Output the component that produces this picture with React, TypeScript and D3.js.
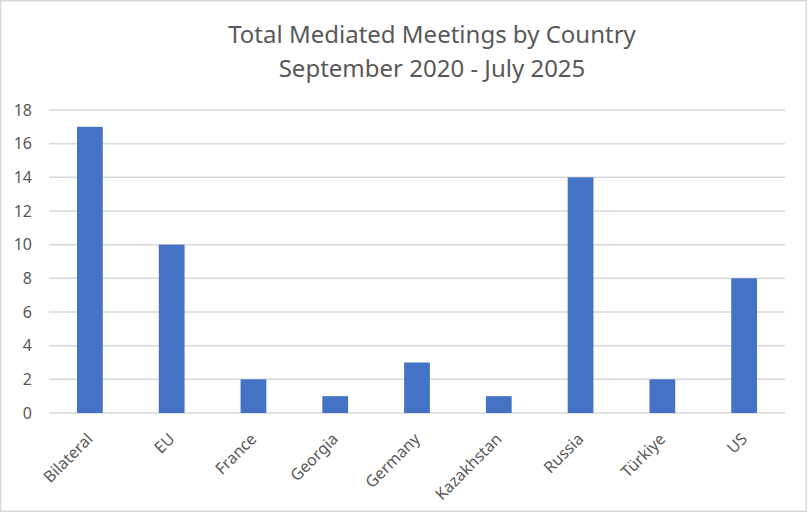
import { useEffect, useRef } from 'react'
import * as d3 from 'd3'

const COUNTRIES = ['Bilateral', 'EU', 'France', 'Georgia', 'Germany', 'Kazakhstan', 'Russia', 'Türkiye', 'US']
const MEETINGS = [17, 10, 2, 1, 3, 1, 14, 2, 8]
const Y_TICKS = [0, 2, 4, 6, 8, 10, 12, 14, 16, 18]
const TITLE_LINES = ['Total Mediated Meetings by Country', 'September 2020 - July 2025']

const W = 808
const H = 514
const FONT = '"Noto Sans", "Open Sans", sans-serif'
const TEXT = '#595959'

export default function App() {
  const ref = useRef<SVGSVGElement | null>(null)

  useEffect(() => {
    document.body.style.margin = '0'
    if (!ref.current) return
    const svg = d3.select(ref.current)
    svg.selectAll('*').remove()

    // chart border
    svg.append('rect')
      .attr('x', 0.75).attr('y', 0.75)
      .attr('width', W - 2.5).attr('height', H - 3.5)
      .attr('fill', '#fff')
      .attr('stroke', '#d9d9d9')
      .attr('stroke-width', 1.5)

    // title
    const title = svg.append('text')
      .attr('text-anchor', 'middle')
      .attr('fill', TEXT)
      .attr('font-family', FONT)
      .attr('font-size', '24px')
    TITLE_LINES.forEach((line, i) => {
      title.append('tspan').attr('x', 432).attr('y', 43 + i * 33.5).text(line)
    })

    const x = d3.scaleBand<string>().domain(COUNTRIES).range([49, 785]).paddingInner(0.685).paddingOuter(0.3425)
    const y = d3.scaleLinear().domain([0, 18]).range([413, 110])

    // gridlines
    svg.append('g')
      .selectAll('line')
      .data(Y_TICKS)
      .join('line')
      .attr('x1', 49).attr('x2', 785)
      .attr('y1', (d) => y(d)).attr('y2', (d) => y(d))
      .attr('stroke', '#d9d9d9')
      .attr('stroke-width', 1.5)

    // y tick labels
    svg.append('g')
      .selectAll('text')
      .data(Y_TICKS)
      .join('text')
      .attr('x', 32)
      .attr('y', (d) => y(d))
      .attr('dy', '0.36em')
      .attr('text-anchor', 'end')
      .attr('fill', TEXT)
      .attr('font-family', FONT)
      .attr('font-size', '16px')
      .text((d) => d)

    // bars
    svg.append('g')
      .selectAll('rect')
      .data(COUNTRIES)
      .join('rect')
      .attr('x', (d) => x(d) as number)
      .attr('width', x.bandwidth())
      .attr('y', (_, i) => y(MEETINGS[i]))
      .attr('height', (_, i) => y(0) - y(MEETINGS[i]))
      .attr('fill', '#4472c4')

    // x tick labels, rotated
    svg.append('g')
      .selectAll('text')
      .data(COUNTRIES)
      .join('text')
      .attr('transform', (d) => `translate(${(x(d) as number) + x.bandwidth() / 2 + 4},440) rotate(-45)`)
      .attr('text-anchor', 'end')
      .attr('fill', TEXT)
      .attr('font-family', FONT)
      .attr('font-size', '16px')
      .text((d) => d)
  }, [])

  return <svg ref={ref} width={W} height={H} style={{ display: 'block' }} />
}
